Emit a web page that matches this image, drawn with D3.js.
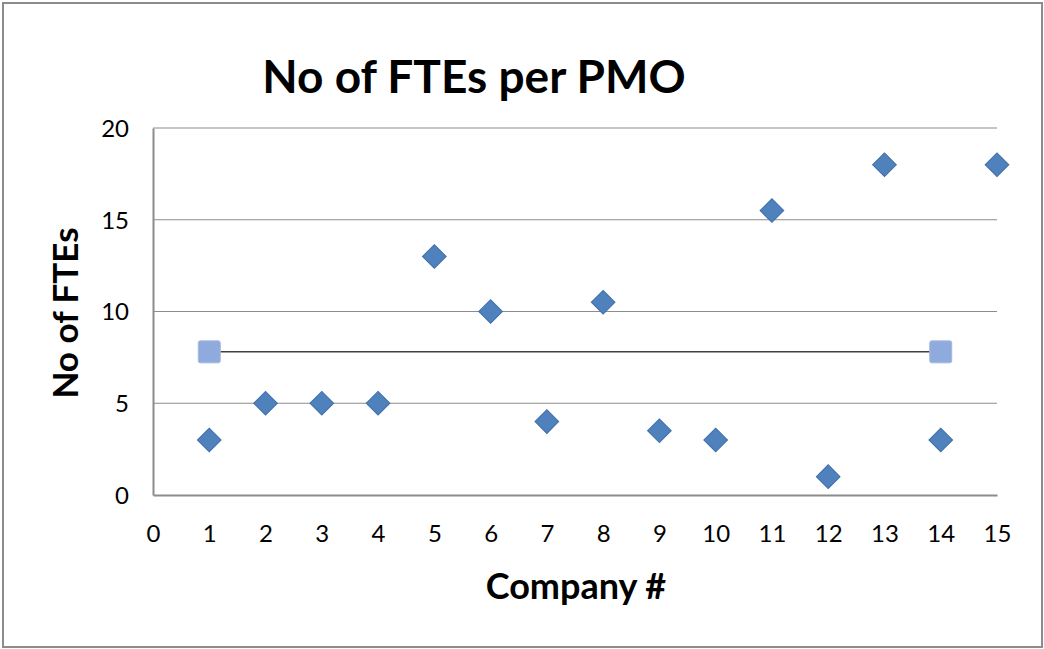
<!DOCTYPE html>
<html>
<head>
<meta charset="utf-8">
<script src="https://cdn.jsdelivr.net/npm/d3@7"></script>
<style>
  body { margin: 0; background: #fff; }
  text { font-family: Lato, "Open Sans", sans-serif; fill: #000; }
</style>
</head>
<body>
<div id="chart"></div>
<script>
// data
const companies = [1, 2, 3, 4, 5, 6, 7, 8, 9, 10, 11, 12, 13, 14, 15];
const ftes = [3, 5, 5, 5, 13, 10, 4, 10.5, 3.5, 3, 15.5, 1, 18, 3, 18];
const avgX = [1, 14];
const avgY = [7.8, 7.8];
const xTicks = [0, 1, 2, 3, 4, 5, 6, 7, 8, 9, 10, 11, 12, 13, 14, 15];
const yTicks = [0, 5, 10, 15, 20];

const width = 1044, height = 649;
const margin = { top: 128, right: 47, bottom: 154, left: 153 };

const svg = d3.select('#chart').append('svg')
  .attr('width', width)
  .attr('height', height);

// outer frame
svg.append('rect')
  .attr('x', 3).attr('y', 3)
  .attr('width', width - 5).attr('height', height - 5)
  .attr('fill', '#fff')
  .attr('stroke', '#8c8c8c')
  .attr('stroke-width', 2);

const x = d3.scaleLinear().domain([0, 15]).range([margin.left, width - margin.right]);
const y = d3.scaleLinear().domain([0, 20]).range([height - margin.bottom, margin.top]);

// gridlines
svg.append('g')
  .selectAll('line')
  .data(yTicks.slice(1))
  .enter().append('line')
  .attr('x1', x(0)).attr('x2', x(15))
  .attr('y1', d => y(d)).attr('y2', d => y(d))
  .attr('stroke', '#8c8c8c')
  .attr('stroke-width', 1.2);

// axes
const yAxis = svg.append('g')
  .attr('transform', 'translate(' + x(0) + ',0)')
  .call(d3.axisLeft(y).tickValues(yTicks).tickSize(0).tickPadding(24));
const xAxis = svg.append('g')
  .attr('transform', 'translate(0,' + y(0) + ')')
  .call(d3.axisBottom(x).tickValues(xTicks).tickSize(0).tickPadding(30));

[xAxis, yAxis].forEach(a => {
  a.select('.domain').attr('stroke', '#8c8c8c').attr('stroke-width', 2);
  a.selectAll('text').attr('font-size', 24).style('font-family', 'Lato, "Open Sans", sans-serif').attr('fill', '#000');
});
yAxis.selectAll('text').attr('dy', '0.35em');

// average line
const avgData = avgX.map((d, i) => ({ x: d, y: avgY[i] }));
svg.append('path')
  .datum(avgData)
  .attr('fill', 'none')
  .attr('stroke', '#404040')
  .attr('stroke-width', 1.5)
  .attr('d', d3.line().x(d => x(d.x)).y(d => y(d.y)));

svg.append('g')
  .selectAll('rect')
  .data(avgData)
  .enter().append('rect')
  .attr('x', d => x(d.x) - 11)
  .attr('y', d => y(d.y) - 11)
  .attr('width', 22).attr('height', 22)
  .attr('rx', 2)
  .attr('fill', '#8faadc')
  .attr('stroke', '#a5b9e0')
  .attr('stroke-width', 1);

// diamonds
const diamond = d3.symbol().type(d3.symbolSquare).size(280);
svg.append('g')
  .selectAll('path')
  .data(companies.map((c, i) => ({ x: c, y: ftes[i] })))
  .enter().append('path')
  .attr('d', diamond)
  .attr('transform', d => 'translate(' + x(d.x) + ',' + y(d.y) + ') rotate(45)')
  .attr('fill', '#4f81bd')
  .attr('stroke', '#3f6fa8')
  .attr('stroke-width', 1);

// titles
svg.append('text')
  .attr('x', 474).attr('y', 93)
  .attr('text-anchor', 'middle')
  .attr('font-size', 46)
  .attr('font-weight', 'bold')
  .text('No of FTEs per PMO');

svg.append('text')
  .attr('transform', 'translate(78,' + 313 + ') rotate(-90)')
  .attr('text-anchor', 'middle')
  .attr('font-size', 35)
  .attr('font-weight', 'bold')
  .text('No of FTEs');

svg.append('text')
  .attr('x', 576).attr('y', 599)
  .attr('text-anchor', 'middle')
  .attr('font-size', 36)
  .attr('font-weight', 'bold')
  .text('Company #');
</script>
</body>
</html>
